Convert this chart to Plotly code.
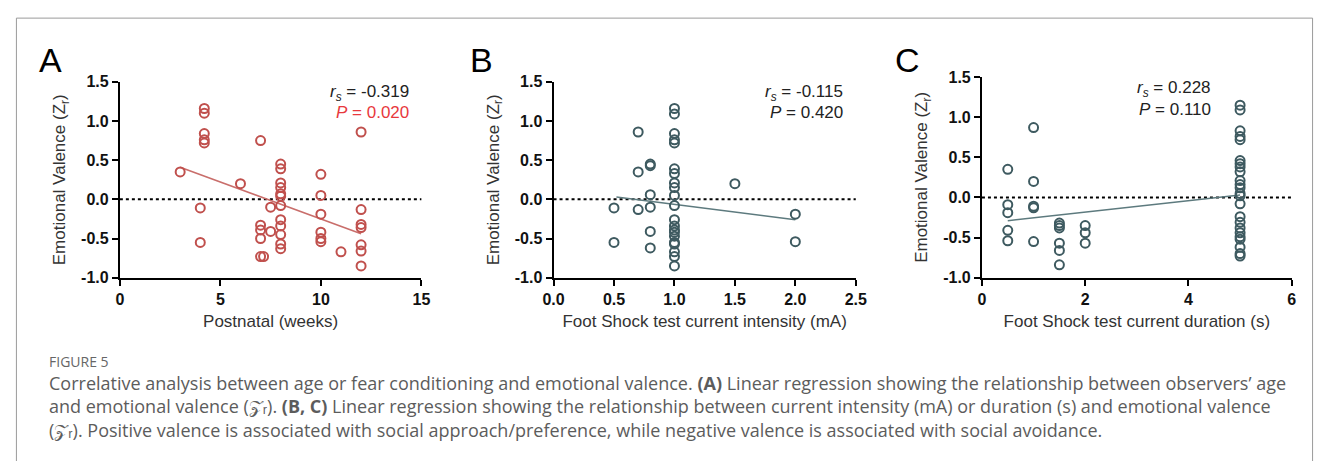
import plotly.graph_objects as go

# ---------------- data ----------------
a_x = [3, 4.2, 4.2, 4.2, 4.2, 4.2, 4, 4, 6, 7, 7, 7, 7, 7, 7.15, 7.5, 7.5,
       8, 8, 8, 8, 8, 8, 8, 8, 8, 8, 8, 8,
       10, 10, 10, 10, 10, 10, 11, 12, 12, 12, 12, 12, 12, 12]
a_y = [0.35, 1.16, 1.10, 0.84, 0.76, 0.72, -0.11, -0.55, 0.20, 0.75, -0.33, -0.39, -0.50, -0.73, -0.73, -0.10, -0.41,
       0.45, 0.39, 0.21, 0.15, 0.07, 0.04, -0.08, -0.26, -0.34, -0.45, -0.57, -0.63,
       0.32, 0.05, -0.19, -0.42, -0.50, -0.54, -0.67, 0.86, -0.13, -0.32, -0.36, -0.58, -0.66, -0.85]
a_fit_x = [3, 12]
a_fit_y = [0.41, -0.44]

b_x = [0.5, 0.5, 0.7, 0.7, 0.7, 0.8, 0.8, 0.8, 0.8, 0.8, 0.8,
       1, 1, 1, 1, 1, 1, 1, 1, 1, 1, 1, 1, 1, 1, 1, 1, 1, 1, 1, 1, 1,
       1.5, 2, 2]
b_y = [-0.11, -0.55, 0.86, 0.35, -0.13, 0.45, 0.43, 0.06, -0.10, -0.41, -0.62,
       1.16, 1.09, 0.84, 0.76, 0.72, 0.39, 0.33, 0.21, 0.15, 0.05, -0.08, -0.26, -0.34, -0.39, -0.42, -0.47, -0.55, -0.57, -0.67, -0.73, -0.85,
       0.20, -0.19, -0.54]
b_fit_x = [0.52, 2.0]
b_fit_y = [0.03, -0.26]

c_x = [0.5, 0.5, 0.5, 0.5, 0.5, 1, 1, 1, 1, 1,
       1.5, 1.5, 1.5, 1.5, 1.5, 1.5, 2, 2, 2,
       5, 5, 5, 5, 5, 5, 5, 5, 5, 5, 5, 5, 5, 5, 5, 5, 5, 5, 5, 5, 5, 5, 5, 5]
c_y = [0.35, -0.09, -0.19, -0.41, -0.54, 0.87, 0.20, -0.11, -0.13, -0.55,
       -0.32, -0.35, -0.38, -0.57, -0.66, -0.84, -0.35, -0.44, -0.57,
       1.15, 1.09, 0.83, 0.76, 0.72, 0.46, 0.42, 0.38, 0.32, 0.21, 0.16, 0.12, 0.05, 0.02, -0.08, -0.24, -0.31, -0.38, -0.44, -0.49, -0.52, -0.62, -0.70, -0.73]
c_fit_x = [0.5, 5]
c_fit_y = [-0.29, 0.03]

y_ticks = [-1.0, -0.5, 0.0, 0.5, 1.0, 1.5]
a_xticks = [0, 5, 10, 15]
b_xticks = [0.0, 0.5, 1.0, 1.5, 2.0, 2.5]
c_xticks = [0, 2, 4, 6]

stats = [("-0.319", "0.020"), ("-0.115", "0.420"), ("0.228", "0.110")]
x_titles = ["Postnatal (weeks)", "Foot Shock test current intensity (mA)",
            "Foot Shock test current duration (s)"]
letters = ["A", "B", "C"]

RED = "#c0504d"
TEAL = "#3e5a60"
W, H = 1328, 461

def px(v):
    return v / W

def py(v):
    return 1 - v / H

fig = go.Figure()

panels = [
    dict(x=a_x, y=a_y, fx=a_fit_x, fy=a_fit_y, col=RED, lcol="#c96e6b", xr=[0, 15], xt=a_xticks,
         fmt=lambda v: f"{v:g}", dom=[110.7, 417.3], top=76.7, letter_x=26, stat_x=407, stat_y=[88, 109]),
    dict(x=b_x, y=b_y, fx=b_fit_x, fy=b_fit_y, col=TEAL, lcol="#5d7a7e", xr=[0, 2.5], xt=b_xticks,
         fmt=lambda v: f"{v:.1f}", dom=[551.7, 859], top=76.7, letter_x=465, stat_x=848, stat_y=[88, 109]),
    dict(x=c_x, y=c_y, fx=c_fit_x, fy=c_fit_y, col=TEAL, lcol="#5d7a7e", xr=[0, 6], xt=c_xticks,
         fmt=lambda v: f"{v:g}", dom=[987.3, 1302.3], top=71.7, letter_x=897, stat_x=1222, stat_y=[84, 105]),
]

axis_font = dict(family="Liberation Sans, Arial, sans-serif", size=16, color="#111")
title_font = dict(family="Liberation Sans, Arial, sans-serif", size=17, color="#333")

for i, p in enumerate(panels):
    n = "" if i == 0 else str(i + 1)
    xa, ya = "x" + n, "y" + n
    fig.add_trace(go.Scatter(x=p["fx"], y=p["fy"], mode="lines", xaxis=xa, yaxis=ya,
                             line=dict(color=p["lcol"], width=1.5), showlegend=False, hoverinfo="skip"))
    fig.add_trace(go.Scatter(x=p["x"], y=p["y"], mode="markers", xaxis=xa, yaxis=ya,
                             marker=dict(symbol="circle-open", size=9, color=p["col"],
                                         line=dict(color=p["col"], width=2)),
                             showlegend=False))
    xkw = dict(domain=[px(p["dom"][0]), px(p["dom"][1])], range=p["xr"], anchor=ya,
               tickvals=p["xt"], ticktext=[f"<b>{p['fmt'](v)}</b>" for v in p["xt"]],
               showline=True, linecolor="#000", linewidth=2, ticks="outside", ticklen=6,
               tickwidth=2, tickcolor="#000", showgrid=False, zeroline=False, tickfont=axis_font,
               title=dict(text=x_titles[i], font=title_font, standoff=8))
    ykw = dict(domain=[py(280), py(p["top"])], range=[-1.0, 1.5], anchor=xa,
               tickvals=y_ticks, ticktext=[f"<b>{v:.1f}</b>" for v in y_ticks],
               showline=True, linecolor="#000", linewidth=2, ticks="outside", ticklen=6,
               tickwidth=2, tickcolor="#000", showgrid=False, zeroline=False, tickfont=axis_font,
               title=dict(text="Emotional Valence (Z<sub>r</sub>)", font=title_font, standoff=11))
    fig.update_layout(**{"xaxis" + n: xkw, "yaxis" + n: ykw})
    # dotted zero line
    fig.add_shape(type="line", xref=xa + " domain", yref=ya, x0=0, x1=1, y0=0, y1=0,
                  line=dict(color="#000", width=2, dash="dot"), layer="below")
    # panel letter
    fig.add_annotation(xref="paper", yref="paper", x=px(p["letter_x"]), y=py(54), xanchor="left",
                       yanchor="middle", text=letters[i], showarrow=False,
                       font=dict(family="Liberation Sans, Arial, sans-serif", size=34, color="#000"))
    r, pv = stats[i]
    pcol = "#e8383d" if i == 0 else "#222"
    fig.add_annotation(xref="paper", yref="paper", x=px(p["stat_x"]), y=py(p["stat_y"][0]), xanchor="right",
                       yanchor="middle", text=f"<i>r<sub>s</sub></i> = {r}", showarrow=False,
                       font=dict(family="Liberation Sans, Arial, sans-serif", size=17, color="#222"))
    fig.add_annotation(xref="paper", yref="paper", x=px(p["stat_x"]), y=py(p["stat_y"][1]), xanchor="right",
                       yanchor="middle", text=f"<i>P</i> = {pv}", showarrow=False,
                       font=dict(family="Liberation Sans, Arial, sans-serif", size=17, color=pcol))

# frame
fig.add_shape(type="rect", xref="paper", yref="paper", x0=px(5.5), x1=px(1323.5), y0=-0.05, y1=py(10.5),
              line=dict(color="#9a9a9a", width=1))

cap_font = dict(family="Open Sans, sans-serif", size=18, color="#5c5c5c")
fig.add_annotation(xref="paper", yref="paper", x=px(37), y=py(367), xanchor="left", yanchor="middle",
                   text="FIGURE 5", showarrow=False,
                   font=dict(family="Open Sans, sans-serif", size=14, color="#666"))
cap_lines = [
    "Correlative analysis between age or fear conditioning and emotional valence. <b>(A)</b> Linear regression showing the relationship between observers\u2019 age",
    "and emotional valence (\U0001D4B5\u1D63). <b>(B, C)</b> Linear regression showing the relationship between current intensity (mA) or duration (s) and emotional valence",
    "(\U0001D4B5\u1D63). Positive valence is associated with social approach/preference, while negative valence is associated with social avoidance.",
]
fig.add_annotation(xref="paper", yref="paper", x=px(37), y=py(414), xanchor="left", align="left",
                   yanchor="middle", text="<br>".join(cap_lines), showarrow=False, font=cap_font)

fig.update_layout(width=W, height=H, margin=dict(l=0, r=0, t=0, b=0),
                  paper_bgcolor="white", plot_bgcolor="white")
fig.write_html("out.html")
